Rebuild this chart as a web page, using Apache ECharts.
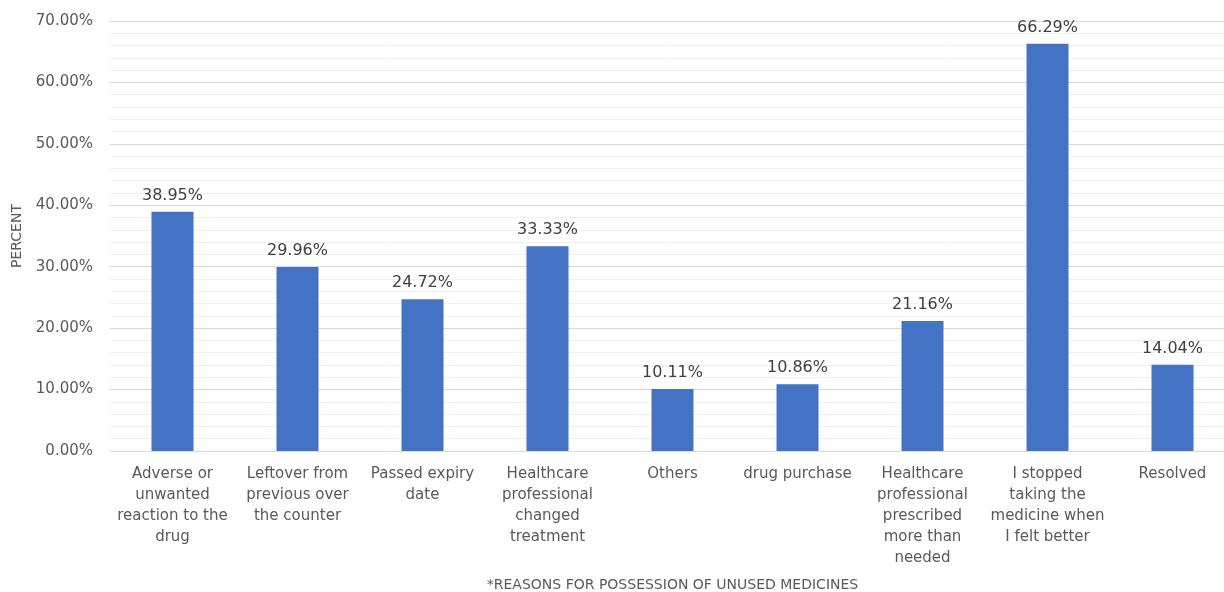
<!DOCTYPE html>
<html>
<head>
<meta charset="utf-8">
<script src="https://cdn.jsdelivr.net/npm/echarts@6/dist/echarts.min.js"></script>
<style>html,body{margin:0;padding:0;background:#fff;}#c{width:1224px;height:592px;}</style>
</head>
<body>
<div id="c"></div>
<script>
const categories = [
  "Adverse or\nunwanted\nreaction to the\ndrug",
  "Leftover from\nprevious over\nthe counter",
  "Passed expiry\ndate",
  "Healthcare\nprofessional\nchanged\ntreatment",
  "Others",
  "drug purchase",
  "Healthcare\nprofessional\nprescribed\nmore than\nneeded",
  "I stopped\ntaking the\nmedicine when\nI felt better",
  "Resolved"
];
const percentValues = [38.95, 29.96, 24.72, 33.33, 10.11, 10.86, 21.16, 66.29, 14.04];
const yAxisTitle = "PERCENT";
const xAxisTitle = "*REASONS FOR POSSESSION OF UNUSED MEDICINES";

const chart = echarts.init(document.getElementById('c'), null, {renderer: 'canvas'});
const font = "DejaVu Sans";
chart.setOption({
  animation: false,
  grid: {left: 110, right: -11, top: 21, bottom: 141, containLabel: false, outerBoundsMode: 'none'},
  xAxis: {
    type: 'category',
    data: categories,
    name: xAxisTitle,
    nameLocation: 'middle',
    nameGap: 127,
    nameTextStyle: {fontFamily: font, fontSize: 14, color: '#595959'},
    axisLine: {lineStyle: {color: '#d9d9d9', width: 1}},
    axisTick: {show: false},
    axisLabel: {interval: 0, fontFamily: font, fontSize: 15, color: '#595959', lineHeight: 21, margin: 13, verticalAlign: 'top'}
  },
  yAxis: {
    type: 'value',
    min: 0, max: 70, interval: 10,
    name: yAxisTitle,
    nameLocation: 'middle',
    nameGap: 86,
    nameRotate: 90,
    nameTextStyle: {fontFamily: font, fontSize: 14, color: '#595959'},
    axisLine: {show: false},
    axisTick: {show: false},
    axisLabel: {fontFamily: font, fontSize: 15, color: '#595959', margin: 17, formatter: v => v.toFixed(2) + '%'},
    splitLine: {show: true, lineStyle: {color: '#d9d9d9', width: 1}},
    minorTick: {show: false, splitNumber: 5},
    minorSplitLine: {show: true, lineStyle: {color: '#f0f0f0', width: 1}}
  },
  series: [{
    type: 'bar',
    data: percentValues,
    barWidth: 42,
    itemStyle: {color: '#4472c4'},
    label: {show: true, position: 'top', distance: 8, fontFamily: font, fontSize: 16, color: '#404040', formatter: p => p.value.toFixed(2) + '%'}
  }]
});
</script>
</body>
</html>
